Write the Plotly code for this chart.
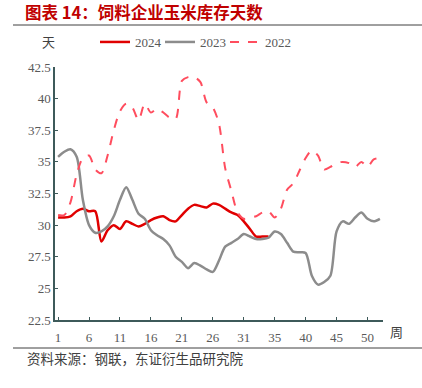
import plotly.graph_objects as go

weeks_idx = list(range(53))
tick_pos = [0, 5, 10, 15, 20, 25, 30, 35, 40, 45, 50]
tick_text = ["1", "6", "11", "16", "21", "26", "31", "35", "40", "45", "50"]

y2024 = [30.6, 30.6, 30.7, 31.1, 31.3, 31.1, 31.1, 28.7, 29.6, 30.0,
         29.7, 30.3, 30.1, 29.9, 30.1, 30.4, 30.6, 30.7, 30.4, 30.3,
         30.8, 31.3, 31.6, 31.5, 31.4, 31.7, 31.6, 31.3, 31.0, 30.8,
         30.3, 29.7, 29.1, 29.1, 29.1]

y2023 = [35.4, 35.8, 36.0, 35.4, 32.0, 30.0, 29.4, 29.5, 29.9, 30.7,
         32.0, 33.0, 32.0, 30.9, 30.5, 29.6, 29.2, 28.9, 28.4, 27.5,
         27.1, 26.6, 27.0, 26.8, 26.5, 26.3, 27.2, 28.3, 28.6, 28.9,
         29.3, 29.1, 28.9, 28.9, 29.0, 29.5, 29.3, 28.6, 27.9, 27.85,
         27.8, 26.0, 25.3, 25.5, 26.0, 29.5, 30.3, 30.1, 30.6, 31.0,
         30.5, 30.3, 30.5]

y2022 = [30.8, 30.8, 31.8, 34.0, 35.3, 35.5, 34.4, 34.1, 35.5, 37.5,
         39.0, 39.6, 39.3, 38.3, 39.6, 38.9, 39.2, 38.9, 38.5, 38.4,
         41.4, 41.7, 41.7, 41.3, 39.7, 39.3, 38.0, 34.5, 32.7, 31.0,
         30.5, 30.6, 30.7, 31.0, 31.1, 30.6, 31.3, 32.8, 33.3, 34.3,
         35.3, 35.9, 35.5, 34.4, 34.6, 34.9, 35.0, 34.9, 34.6, 35.0,
         34.6, 35.2, 35.3]

W, H = 422, 388
L, R, T, B = 55, 39, 67, 68
pw, ph = W - L - R, H - T - B

def px(x):
    return (x - L) / pw

def py(y):
    return (H - B - y) / ph

serif = "Liberation Serif, Times New Roman, serif"
cjk = "Noto Sans CJK SC, sans-serif"

fig = go.Figure()
fig.add_trace(go.Scatter(x=weeks_idx[:len(y2024)], y=y2024, name="2024", mode="lines", legend="legend",
                         line=dict(color="#e00000", width=2.5, shape="spline", smoothing=0.8)))
fig.add_trace(go.Scatter(x=weeks_idx[:len(y2023)], y=y2023, name="2023", mode="lines", legend="legend2",
                         line=dict(color="#8c8c8c", width=2.5, shape="spline", smoothing=0.8)))
fig.add_trace(go.Scatter(x=weeks_idx[:len(y2022)], y=y2022, name="2022", mode="lines", legend="legend3",
                         line=dict(color="#ff4d5e", width=2, dash="dash", shape="spline", smoothing=0.8)))

def leg(xpix):
    return dict(orientation="h", x=px(xpix), y=py(42), xanchor="left", yanchor="middle",
                font=dict(family=serif, size=13, color="#595959"),
                itemwidth=30, bgcolor="rgba(0,0,0,0)", borderwidth=0)

axis_color = "#3d5a5a"
fig.update_layout(
    width=W, height=H,
    margin=dict(l=L, r=R, t=T, b=B, autoexpand=False),
    paper_bgcolor="white", plot_bgcolor="white",
    showlegend=True,
    legend=leg(95), legend2=leg(160), legend3=leg(225),
    title=dict(text="<b>图表 14：饲料企业玉米库存天数</b>", x=25 / W, xanchor="left",
               y=1 - 13 / H, yanchor="middle",
               font=dict(family=cjk, size=16.5, color="#c00000")),
    xaxis=dict(range=[-0.5, 52.5], tickmode="array", tickvals=tick_pos, ticktext=tick_text,
               showgrid=False, zeroline=False, showline=True, linecolor=axis_color, linewidth=1.5,
               ticks="inside", ticklen=3, tickcolor=axis_color, automargin=False,
               ticklabelstandoff=5,
               tickfont=dict(family=serif, size=13, color="#595959")),
    yaxis=dict(range=[22.5, 42.5], dtick=2.5, tick0=22.5,
               showgrid=False, zeroline=False, showline=True, linecolor=axis_color, linewidth=1.5,
               ticks="inside", ticklen=3, tickcolor=axis_color, automargin=False,
               tickfont=dict(family=serif, size=13, color="#595959")),
    shapes=[
        dict(type="line", xref="paper", yref="paper", x0=px(13), x1=px(422), y0=py(25), y1=py(25),
             line=dict(color="#404040", width=1)),
        dict(type="line", xref="paper", yref="paper", x0=px(13), x1=px(422), y0=py(348), y1=py(348),
             line=dict(color="#404040", width=1)),
    ],
    annotations=[
        dict(text="天", xref="paper", yref="paper", x=px(48), y=py(42), showarrow=False,
             xanchor="center", yanchor="middle", font=dict(family=cjk, size=13, color="#404040")),
        dict(text="周", xref="paper", yref="paper", x=px(396), y=py(331), showarrow=False,
             xanchor="center", yanchor="middle", font=dict(family=cjk, size=13, color="#404040")),
        dict(text="资料来源：钢联，东证衍生品研究院", xref="paper", yref="paper", x=px(25), y=py(358),
             showarrow=False, xanchor="left", yanchor="middle",
             font=dict(family=cjk, size=13.5, color="#404040")),
    ],
)

fig.write_html("out.html", config={"displayModeBar": False},
               post_script="document.body.style.margin='0';")
